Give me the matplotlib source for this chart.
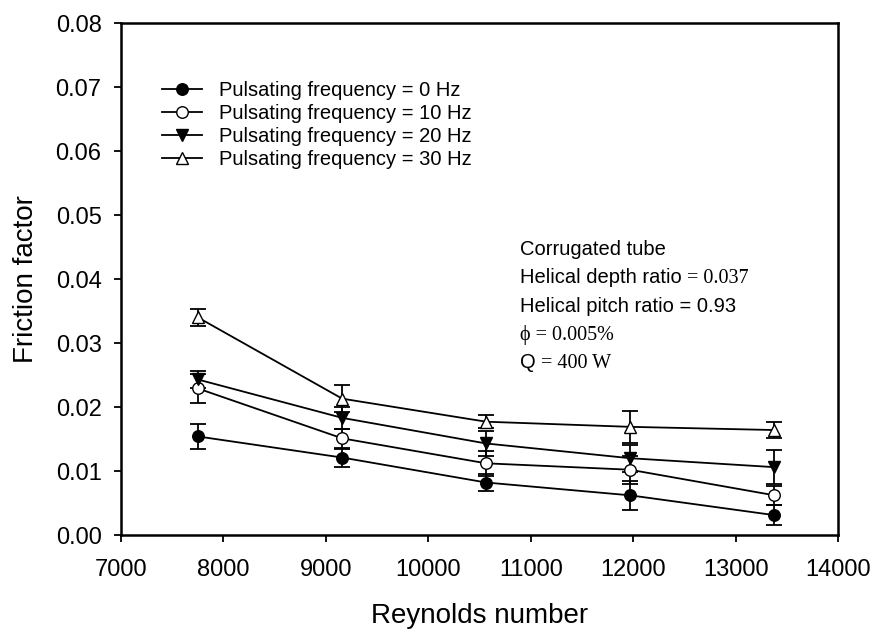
import numpy as np
import matplotlib.pyplot as plt

# ================ Data ================
reynolds = [7750, 9160, 10565, 11970, 13380]

f_0hz  = [0.0154, 0.0121, 0.0082, 0.0062, 0.0031]
e_0hz  = [0.0020, 0.0014, 0.0014, 0.0023, 0.0016]
f_10hz = [0.0229, 0.0151, 0.0112, 0.0102, 0.0062]
e_10hz = [0.0023, 0.0015, 0.0020, 0.0022, 0.0015]
f_20hz = [0.0243, 0.0183, 0.0143, 0.0120, 0.0106]
e_20hz = [0.0014, 0.0017, 0.0020, 0.0021, 0.0027]
f_30hz = [0.0340, 0.0213, 0.0177, 0.0169, 0.0164]
e_30hz = [0.0013, 0.0021, 0.0010, 0.0025, 0.0013]

labels = [
    "Pulsating frequency = 0 Hz",
    "Pulsating frequency = 10 Hz",
    "Pulsating frequency = 20 Hz",
    "Pulsating frequency = 30 Hz",
]

x_ticks = [7000, 8000, 9000, 10000, 11000, 12000, 13000, 14000]
y_ticks = [0.00, 0.01, 0.02, 0.03, 0.04, 0.05, 0.06, 0.07, 0.08]

# ================ Styles ================
SANS  = "Liberation Sans"
SERIF = "Liberation Serif"
series = [
    (f_0hz,  e_0hz,  "o", "black"),
    (f_10hz, e_10hz, "o", "white"),
    (f_20hz, e_20hz, "v", "black"),
    (f_30hz, e_30hz, "^", "white"),
]

plt.rcParams["font.family"] = SANS

fig = plt.figure(figsize=(8.72, 6.31), dpi=100)
ax = fig.add_axes([121 / 872, 1 - 535 / 631, (838 - 121) / 872, (535 - 23) / 631])

handles = []
for (vals, errs, mk, face), lab in zip(series, labels):
    ax.errorbar(reynolds, vals, yerr=errs, fmt="none", ecolor="black",
                elinewidth=1.3, capsize=5.5, capthick=1.3, zorder=2)
    h, = ax.plot(reynolds, vals, color="black", linewidth=1.3,
                 marker=mk, markersize=8.3, markerfacecolor=face,
                 markeredgecolor="black", markeredgewidth=1.0,
                 label=lab, zorder=3)
    handles.append(h)

ax.set_xlim(7000, 14000)
ax.set_ylim(0, 0.08)
ax.set_xticks(x_ticks)
ax.set_yticks(y_ticks)
ax.set_yticklabels([f"{v:.2f}" for v in y_ticks])
ax.tick_params(direction="out", length=5, width=1.3, labelsize=17, pad=9)
ax.tick_params(axis="x", pad=12)
for sp in ax.spines.values():
    sp.set_linewidth(1.8)

ax.set_xlabel("Reynolds number", fontsize=20, labelpad=16)
ax.set_ylabel("Friction factor", fontsize=20, labelpad=12)

ax.legend(handles=handles, loc="upper left", bbox_to_anchor=(0.046, 0.902),
          frameon=False, fontsize=14.5, handlelength=2.0, handletextpad=0.85,
          labelspacing=0.2, borderaxespad=0)

# -------- mixed-font annotation block --------
def mixed_text(x, y, parts):
    renderer = fig.canvas.get_renderer()
    cur = x
    for txt, fam in parts:
        t = fig.text(cur, y, txt, fontsize=14.5, family=fam, va="baseline")
        bb = t.get_window_extent(renderer=renderer)
        cur += bb.width / fig.bbox.width

notes = [
    [("Corrugated tube", SANS)],
    [("Helical depth ratio ", SANS), ("= 0.037", SERIF)],
    [("Helical pitch ratio = 0.93", SANS)],
    [("\u03d5 = 0.005%", SERIF)],
    [("Q ", SANS), ("= 400 W", SERIF)],
]
y0 = 255
for k, parts in enumerate(notes):
    mixed_text(520 / 872, 1 - (y0 + k * 28.3) / 631, parts)

fig.savefig("out.png", dpi=100)
